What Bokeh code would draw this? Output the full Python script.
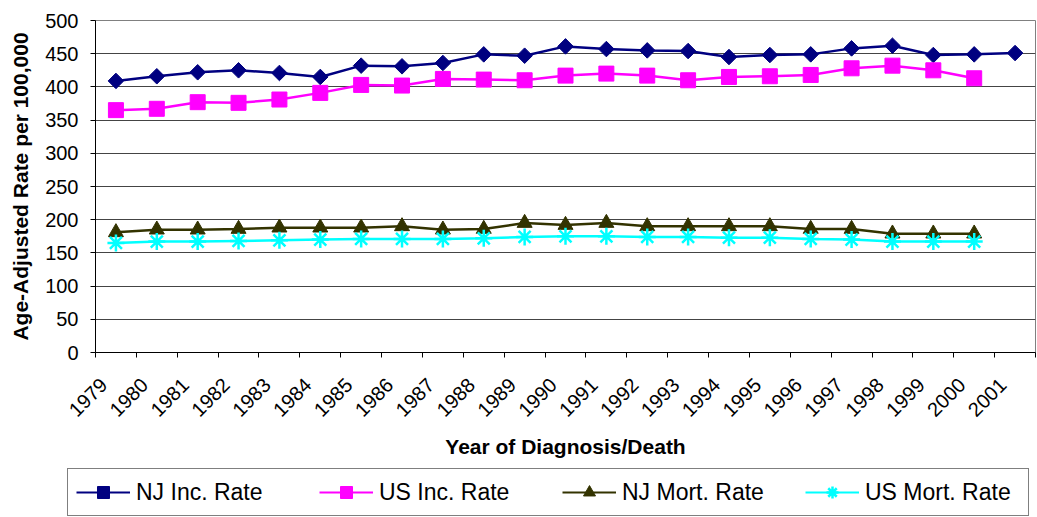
import math
from bokeh.plotting import figure
from bokeh.layouts import column
from bokeh.models import (Range1d, FixedTicker, NumeralTickFormatter, Legend, LegendItem,
                          ColumnDataSource)
from bokeh.embed import file_html
from bokeh.resources import INLINE

# ---- data ----
years = list(range(1979, 2002))
nj_inc = [409, 416, 422, 425, 421, 415, 432, 431, 436, 449, 447, 461,
          457, 455, 454, 445, 448, 449, 458, 462, 448, 449, 451]
us_inc = [365, 367, 377, 376, 381, 391, 403, 402, 412, 411, 410, 417,
          420, 417, 410, 415, 416, 418, 428, 432, 425, 413]
nj_mort = [181, 185, 185, 186, 188, 188, 188, 190, 185, 186, 195, 192,
           195, 190, 190, 190, 190, 186, 186, 179, 179, 179]
us_mort = [165, 167, 167, 168, 169, 170, 171, 171, 171, 172, 174, 175,
           175, 174, 174, 173, 173, 171, 170, 167, 167, 167]
series_names = ["NJ Inc. Rate", "US Inc. Rate", "NJ Mort. Rate", "US Mort. Rate"]
y_ticks = list(range(0, 501, 50))

FONT = "Liberation Sans"

p = figure(width=1037, height=465, output_backend="svg", toolbar_location=None,
           x_range=Range1d(1978.5, 2001.5), y_range=Range1d(0, 500),
           min_border_left=95, min_border_top=20, min_border_right=2,
           min_border_bottom=113)
p.frame_align = False
p.background_fill_color = "white"
p.border_fill_color = "white"
p.outline_line_color = "#808080"
p.outline_line_width = 1

# axes
xa = p.xaxis[0]
# labels sit a little left of the category centre, as in the original
xa.ticker = FixedTicker(ticks=[y - 0.3 for y in years],
                        minor_ticks=[y - 0.5 for y in years] + [years[-1] + 0.5])
xa.formatter = NumeralTickFormatter(format="0")
xa.major_label_orientation = math.pi / 4
xa.major_tick_line_color = None
xa.major_tick_out = 0
xa.major_tick_in = 0
xa.minor_tick_out = 5
xa.minor_tick_in = 0
xa.minor_tick_line_color = "black"
xa.axis_line_color = "black"
xa.major_label_text_font = FONT
xa.major_label_text_font_size = "20px"
xa.major_label_text_color = "black"
xa.major_label_standoff = 24
xa.axis_label = "Year of Diagnosis/Death"
xa.axis_label_text_font = FONT
xa.axis_label_text_font_size = "21px"
xa.axis_label_text_font_style = "bold"
xa.axis_label_text_color = "black"
xa.axis_label_standoff = 9

ya = p.yaxis[0]
ya.ticker = FixedTicker(ticks=y_ticks)
ya.minor_tick_line_color = None
ya.major_tick_out = 5
ya.major_tick_in = 0
ya.major_tick_line_color = "black"
ya.axis_line_color = "black"
ya.major_label_text_font = FONT
ya.major_label_text_font_size = "20px"
ya.major_label_text_color = "black"
ya.major_label_standoff = 12
ya.axis_label = "Age-Adjusted Rate per 100,000"
ya.axis_label_text_font = FONT
ya.axis_label_text_font_size = "21px"
ya.axis_label_text_font_style = "bold"
ya.axis_label_text_color = "black"
ya.axis_label_standoff = 10

p.xgrid.grid_line_color = None
p.ygrid.ticker = FixedTicker(ticks=y_ticks)
p.ygrid.grid_line_color = "#444444"
p.ygrid.grid_line_width = 1

# legend strip underneath the chart
lf = figure(width=1037, height=52, output_backend="svg", toolbar_location=None,
            x_range=Range1d(0, 1), y_range=Range1d(0, 1),
            x_axis_location=None, y_axis_location=None,
            min_border_left=0, min_border_right=0, min_border_top=0, min_border_bottom=0)
lf.frame_align = False
lf.grid.visible = False
lf.outline_line_color = None
lf.background_fill_color = "white"
lf.border_fill_color = "white"

# series
specs = [
    (nj_inc, "#000080", dict(marker="square", size=11, angle=math.pi / 4)),
    (us_inc, "#FF00FF", dict(marker="square", size=15)),
    (nj_mort, "#333300", dict(marker="triangle", size=15)),
    (us_mort, "#00FFFF", dict(marker="asterisk", size=17, line_width=2.5)),
]
items = []
for name, (vals, color, mk) in zip(series_names, specs):
    src = ColumnDataSource(dict(x=years[:len(vals)], y=vals))
    p.line("x", "y", source=src, line_color=color, line_width=2.5)
    p.scatter("x", "y", source=src, fill_color=color, line_color=color, **mk)
    # legend swatch renderers: same data, lying outside this strip's ranges
    l1 = lf.line("x", "y", source=src, line_color=color, line_width=2)
    l2 = lf.scatter("x", "y", source=src, fill_color=color, line_color=color, **mk)
    items.append(LegendItem(label=name, renderers=[l1, l2]))

legend = Legend(items=items, orientation="horizontal", location=(67, 1),
                border_line_color="black", border_line_width=1,
                background_fill_color="white", background_fill_alpha=1,
                label_text_font=FONT, label_text_font_size="23px",
                label_text_color="black", glyph_width=54, glyph_height=30,
                label_height=30, label_width=155, label_standoff=6,
                spacing=28, padding=8, margin=0)
lf.add_layout(legend, "center")

layout = column(p, lf, spacing=0)
open("out.html", "w").write(file_html(layout, INLINE))
